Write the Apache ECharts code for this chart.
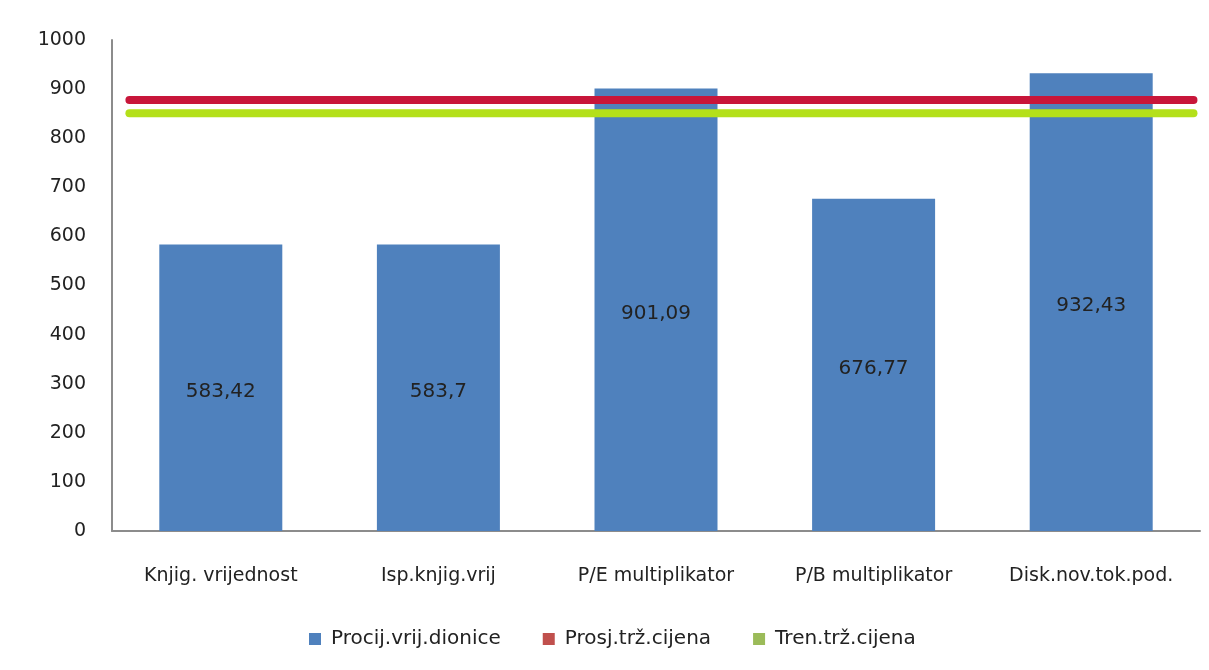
<!DOCTYPE html>
<html>
<head>
<meta charset="utf-8">
<script src="https://cdn.jsdelivr.net/npm/echarts@6/dist/echarts.min.js"></script>
<style>
html,body{margin:0;padding:0;background:#fff;}
#main{width:1209px;height:670px;}
</style>
</head>
<body>
<div id="main"></div>
<script>
// podaci
const categories = ['Knjig. vrijednost', 'Isp.knjig.vrij', 'P/E multiplikator', 'P/B multiplikator', 'Disk.nov.tok.pod.'];
const procijVrij = [583.42, 583.7, 901.09, 676.77, 932.43];
const prosjCijena = 878;
const trenCijena = 851;
const yTicks = [0, 100, 200, 300, 400, 500, 600, 700, 800, 900, 1000];

const FONT = 'DejaVu Sans';
const chart = echarts.init(document.getElementById('main'));

// horizontalne linije preko cijelog grafa (sekundarna x os)
const lineSpan = [0.08, 4.97];

const option = {
    animation: false,
    textStyle: { fontFamily: FONT },
    grid: { left: 112, right: 9, top: 40, bottom: 139 },
    legend: {
        top: 624,
        left: 304,
        itemWidth: 12,
        itemHeight: 12,
        itemGap: 42,
        icon: 'rect',
        textStyle: { fontSize: 20, color: '#222', fontFamily: FONT, padding: [0, 0, 0, 5] },
        data: [
            { name: 'Procij.vrij.dionice', itemStyle: { color: '#4F81BD' } },
            { name: 'Prosj.trž.cijena', itemStyle: { color: '#C0504D' } },
            { name: 'Tren.trž.cijena', itemStyle: { color: '#9BBB59' } }
        ]
    },
    xAxis: [{
        type: 'category',
        data: categories,
        axisLine: { lineStyle: { color: '#8c8c8c', width: 2 } },
        axisTick: { show: false },
        axisLabel: { color: '#222', fontSize: 19, margin: 36, interval: 0 }
    }, {
        type: 'value',
        min: 0,
        max: 5,
        show: false
    }],
    yAxis: {
        type: 'value',
        min: yTicks[0],
        max: yTicks[yTicks.length - 1],
        interval: 100,
        axisLine: { show: true, lineStyle: { color: '#8c8c8c', width: 2 } },
        axisTick: { show: false },
        splitLine: { show: false },
        axisLabel: { color: '#222', fontSize: 19, margin: 26, formatter: v => String(v) }
    },
    series: [{
        name: 'Procij.vrij.dionice',
        type: 'bar',
        data: procijVrij,
        barWidth: 123,
        itemStyle: { color: '#4F81BD' },
        label: {
            show: true,
            position: 'inside',
            offset: [0, 4],
            color: '#222',
            fontSize: 20,
            formatter: p => String(p.value).replace('.', ',')
        }
    }, {
        name: 'Prosj.trž.cijena',
        type: 'line',
        xAxisIndex: 1,
        data: lineSpan.map(x => [x, prosjCijena]),
        symbol: 'none',
        lineStyle: { color: '#C8163A', width: 8, cap: 'round' },
        itemStyle: { color: '#C0504D' },
        z: 5
    }, {
        name: 'Tren.trž.cijena',
        type: 'line',
        xAxisIndex: 1,
        data: lineSpan.map(x => [x, trenCijena]),
        symbol: 'none',
        lineStyle: { color: '#B4E01A', width: 8, cap: 'round' },
        itemStyle: { color: '#9BBB59' },
        z: 5
    }]
};

chart.setOption(option);
</script>
</body>
</html>
